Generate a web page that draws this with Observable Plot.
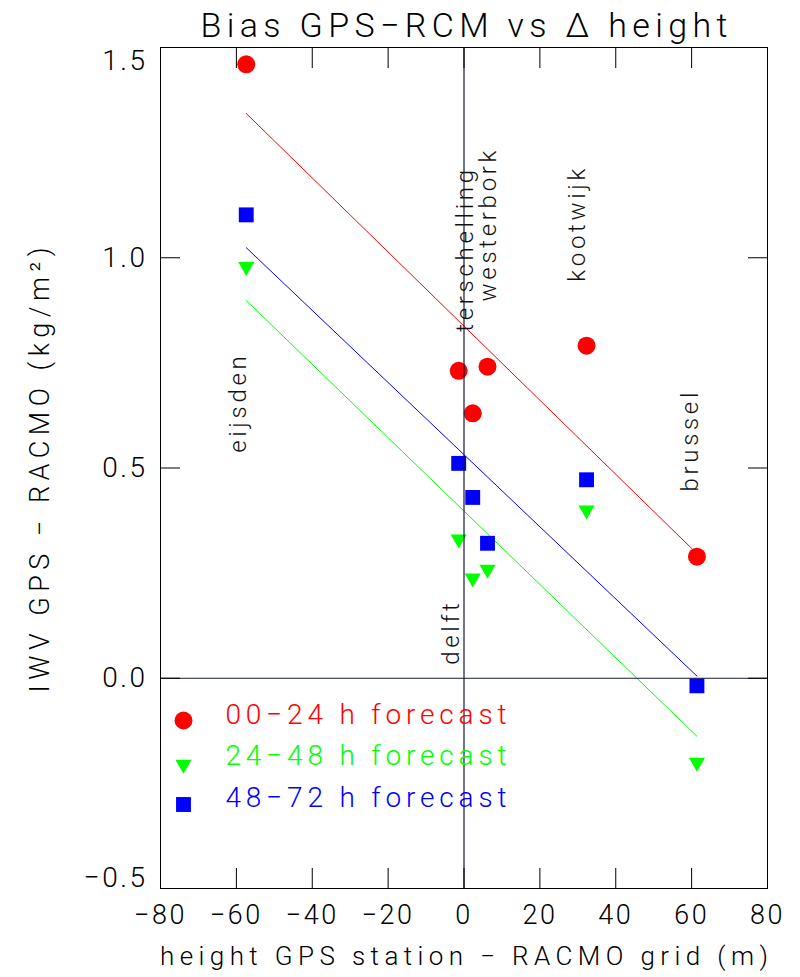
<!DOCTYPE html>
<html><head><meta charset="utf-8">
<script src="https://cdn.jsdelivr.net/npm/d3@7"></script>
<script src="https://cdn.jsdelivr.net/npm/@observablehq/plot@0.6"></script>
<style>body{margin:0;background:#fff;} svg{display:block}</style>
</head><body><div id="chart"></div>
<script>
// Stations and their height difference GPS station − RACMO grid (m)
const stations = ["eijsden", "delft", "terschelling", "westerbork", "kootwijk", "brussel"];
const dHeight  = [-57.4, -1.4, 2.3, 6.2, 32.3, 61.4];
// Bias IWV GPS − RACMO (kg/m²) per forecast range
const bias0024 = [1.46, 0.731, 0.630, 0.741, 0.791, 0.289];
const bias2448 = [0.979, 0.331, 0.238, 0.259, 0.400, -0.200];
const bias4872 = [1.102, 0.511, 0.430, 0.321, 0.472, -0.018];
// Station label anchors (data units: label baseline x, start y)
const labelX = [-57.4, -1.4, 2.3, 8.5, 32.0, 61.8];
const labelY = [0.536, 0.032, 0.824, 0.896, 0.943, 0.444];
// Series meta
const seriesNames = ["00−24 h forecast", "24−48 h forecast", "48−72 h forecast"];
const seriesColors = ["#ff0000", "#00ff00", "#0000ff"];
// Ticks
const xTickLabels = [-80, -60, -40, -20, 0, 20, 40, 60, 80];
const xInnerTicks = [-60, -40, -20, 0, 20, 40, 60];
const yTickLabels = [1.5, 1.0, 0.5, 0.0, -0.5];
const yInnerTicks = [1.0, 0.5, 0.0];
const titleText = "Bias GPS−RCM vs Δ height";
const xTitleText = "height GPS station − RACMO grid (m)";
const yTitleText = "IWV GPS − RACMO (kg/m²)";

const seriesValues = [bias0024, bias2448, bias4872];
const rows = [];
seriesValues.forEach((vals, s) => vals.forEach((v, i) => rows.push({series: seriesNames[s], station: stations[i], dh: dHeight[i], bias: v})));
const labels = stations.map((s, i) => ({station: s, x: labelX[i], y: labelY[i]}));
const bySeries = n => rows.filter(r => r.series === n);

const fmtY = d3.format(".1f");
const fmtX = d3.format("d");
const dark = "#151a3a";

const symbols = [
  {symbol: "circle", r: 9, rotate: 0},
  {symbol: "triangle", r: 6, rotate: 180},
  {symbol: "square", r: 8.4, rotate: 0}
];

const marks = [Plot.frame({stroke: "black", strokeWidth: 1})];
seriesNames.forEach((n, s) => {
  marks.push(Plot.linearRegressionY(bySeries(n), {x: "dh", y: "bias", stroke: seriesColors[s], strokeWidth: 1, ci: 0}));
});
seriesNames.forEach((n, s) => {
  marks.push(Plot.dot(bySeries(n), {x: "dh", y: "bias", fill: seriesColors[s], stroke: "none", symbol: symbols[s].symbol, r: symbols[s].r, rotate: symbols[s].rotate}));
});
marks.push(Plot.ruleX([0], {stroke: dark, strokeWidth: 1.2}));
marks.push(Plot.ruleY([0], {stroke: dark, strokeWidth: 1.2}));
// inward ticks
marks.push(Plot.axisX(xInnerTicks, {anchor: "bottom", tickSize: -20, tickFormat: () => "", stroke: "black"}));
marks.push(Plot.axisX(xInnerTicks, {anchor: "top", tickSize: -20, tickFormat: () => "", stroke: "black"}));
marks.push(Plot.axisY(yInnerTicks, {anchor: "left", tickSize: -20, tickFormat: () => "", stroke: "black"}));
marks.push(Plot.axisY(yInnerTicks, {anchor: "right", tickSize: -20, tickFormat: () => "", stroke: "black"}));
// tick labels
marks.push(Plot.axisX(xTickLabels, {anchor: "bottom", tickSize: 0, tickPadding: 16, tickFormat: fmtX, fontSize: 27, fill: "black"}));
marks.push(Plot.axisY(yTickLabels.slice(1, 4), {anchor: "left", tickSize: 0, tickPadding: 13, tickFormat: fmtY, fontSize: 28, fill: "black"}));
marks.push(Plot.axisY([yTickLabels[0]], {anchor: "left", tickSize: 0, tickPadding: 13, dy: 14, tickFormat: fmtY, fontSize: 28, fill: "black"}));
marks.push(Plot.axisY([yTickLabels[4]], {anchor: "left", tickSize: 0, tickPadding: 13, dy: -10, tickFormat: fmtY, fontSize: 28, fill: "black"}));
// station labels
marks.push(Plot.text(labels, {x: "x", y: "y", text: "station", rotate: -90, textAnchor: "start", lineAnchor: "bottom", fontSize: 24, fill: "#111"}));
// legend
seriesNames.forEach((n, s) => {
  const rowDy = [673, 717, 757][s];
  const txtDy = [668, 709, 751][s];
  marks.push(Plot.dot([n], {frameAnchor: "top-left", dx: 23, dy: rowDy, fill: seriesColors[s], stroke: "none", symbol: symbols[s].symbol, r: symbols[s].r, rotate: symbols[s].rotate}));
  marks.push(Plot.text([n], {frameAnchor: "top-left", dx: 65, dy: txtDy, text: d => d, textAnchor: "start", lineAnchor: "middle", fontSize: 28, fill: seriesColors[s]}));
});
// titles
marks.push(Plot.text([titleText], {frameAnchor: "top", dy: -11, text: d => d, textAnchor: "middle", lineAnchor: "bottom", fontSize: 34, fill: "black"}));
marks.push(Plot.text([xTitleText], {frameAnchor: "bottom", dy: 76, text: d => d, textAnchor: "middle", lineAnchor: "bottom", fontSize: 26, fill: "black"}));
marks.push(Plot.text([yTitleText], {frameAnchor: "left", dx: -120, dy: 2, rotate: -90, text: d => d, textAnchor: "middle", lineAnchor: "middle", fontSize: 27, fill: "black"}));

const svg = Plot.plot({
  width: 800,
  height: 977,
  marginLeft: 160,
  marginRight: 33,
  marginTop: 47,
  marginBottom: 89,
  x: {domain: [-80, 80], axis: null},
  y: {domain: [-0.5, 1.5], axis: null},
  style: {fontFamily: "Roboto, 'DejaVu Sans', sans-serif", fontWeight: 300, background: "white", color: "black", overflow: "visible"},
  marks
});
document.getElementById("chart").appendChild(svg);

// text widths matching the wide stroke font of the original
const lengths = new Map([[titleText, 527], [xTitleText, 608], [yTitleText, 445]]);
seriesNames.forEach(n => lengths.set(n, 281));
const stationSet = new Set(stations);
const xLabelSet = new Set(xTickLabels.map(fmtX));
const yLabelSet = new Set(yTickLabels.map(fmtY));
svg.querySelectorAll("text").forEach(t => {
  const s = t.textContent;
  if (lengths.has(s)) { t.setAttribute("textLength", lengths.get(s)); t.setAttribute("lengthAdjust", "spacing"); }
  else if (stationSet.has(s)) t.style.letterSpacing = "3.7px";
  else if (xLabelSet.has(s) || yLabelSet.has(s)) t.style.letterSpacing = "2.5px";
});
</script>
</body></html>
